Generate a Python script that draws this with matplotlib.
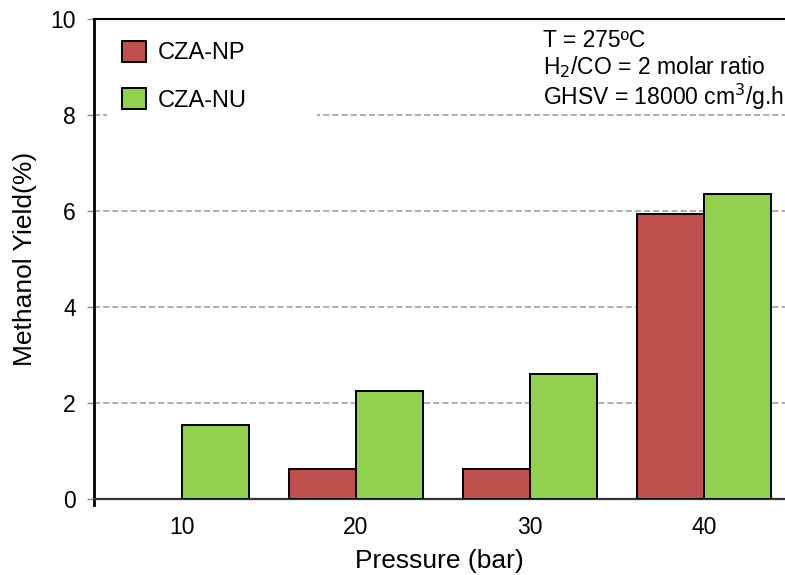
import matplotlib
matplotlib.use("Agg")
import matplotlib.pyplot as plt
import numpy as np
from matplotlib.patches import Patch, Rectangle

plt.rcParams['font.family'] = ['Liberation Sans', 'DejaVu Sans']

pressures = ["10", "20", "30", "40"]
cza_np = [0.0, 0.63, 0.625, 5.95]
cza_nu = [1.54, 2.26, 2.60, 6.36]
series_names = ["CZA-NP", "CZA-NU"]
colors = ["#C0504D", "#92D050"]
yticks = [0, 2, 4, 6, 8, 10]

W, H = 785, 575
fig = plt.figure(figsize=(W/100, H/100), dpi=100)
x0, x1, y0, y1 = 94, 785, 19.3, 499.3
ax = fig.add_axes([x0/W, 1 - y1/H, (x1-x0)/W, (y1-y0)/H])

x = np.arange(len(pressures))
w = 0.385
lw_np = [1.4 if v > 0 else 0 for v in cza_np]
lw_nu = [1.4 if v > 0 else 0 for v in cza_nu]
ax.bar(x - w/2, cza_np, w, color=colors[0], edgecolor="black", linewidth=lw_np, zorder=3)
ax.bar(x + w/2, cza_nu, w, color=colors[1], edgecolor="black", linewidth=lw_nu, zorder=3)

ax.set_xlim(-0.506, 3.466)
ax.set_ylim(0, 10)
ax.set_xticks(x)
ax.set_xticklabels(pressures)
ax.set_yticks(yticks)
ax.tick_params(axis='x', length=0, pad=12, labelsize=16.5)
ax.tick_params(axis='y', length=5, width=1, color='#888888', pad=8, labelsize=16.5, direction='out')

for v in yticks[1:-1]:
    ax.axhline(v, color='#999999', linestyle=(0, (4, 2)), linewidth=1.1, zorder=1)

# white legend background area (covers gridline as in reference)
px_to_ax = lambda px, py: ((px - x0) / (x1 - x0), (y1 - py) / (y1 - y0))
bx, by = px_to_ax(107, 126)
bx2, by2 = px_to_ax(317, 21)
ax.add_patch(Rectangle((bx, by), bx2 - bx, by2 - by, transform=ax.transAxes,
                       facecolor='white', edgecolor='none', zorder=2))

ax.spines['right'].set_visible(False)
ax.spines['top'].set_color('black')
ax.spines['top'].set_linewidth(1.5)
ax.spines['left'].set_linewidth(2.0)
ax.spines['left'].set_color('black')
ax.spines['left'].set_bounds(-0.12, 10)
ax.spines['bottom'].set_color('#333333')
ax.spines['bottom'].set_linewidth(1.6)

ax.set_ylabel("Methanol Yield(%)", fontsize=19, labelpad=10)
ax.set_xlabel("Pressure (bar)", fontsize=19, labelpad=7)

handles = [Patch(facecolor=colors[i], edgecolor='black', linewidth=1.4) for i in range(2)]
leg = ax.legend(handles, series_names, loc='upper left', bbox_to_anchor=(0.02, 0.985),
                fontsize=17, frameon=False, handlelength=1.0, handleheight=1.0,
                handletextpad=0.5, labelspacing=1.0, borderpad=0.6, borderaxespad=0)
leg.set_zorder(5)

fig.text(543 / W, 1 - 29 / H, "T = 275ºC\nH$_2$/CO = 2 molar ratio\nGHSV = 18000 cm$^3$/g.h",
         fontsize=16.5, va='top', ha='left', linespacing=1.1)

fig.savefig("out.png", dpi=100)
